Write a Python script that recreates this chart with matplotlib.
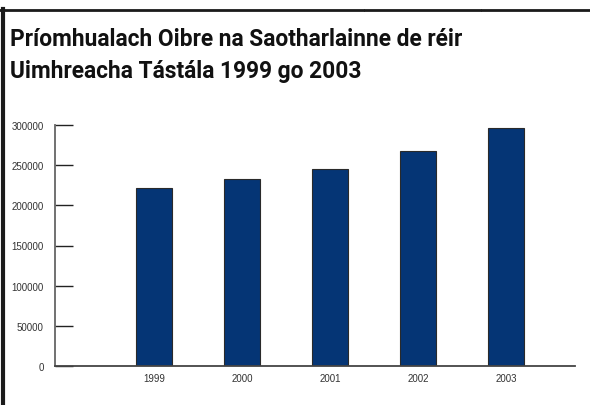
import matplotlib.pyplot as plt
from matplotlib.lines import Line2D
import numpy as np

years = ['1999', '2000', '2001', '2002', '2003']
values = [222000, 233000, 245000, 267500, 296500]
yticks = [0, 50000, 100000, 150000, 200000, 250000, 300000]

title1 = 'Príomhualach Oibre na Saotharlainne de réir'
title2 = 'Uimhreacha Tástála 1999 go 2003'

fig = plt.figure(figsize=(5.9, 4.06), dpi=100)
ax = fig.add_axes([55/590, 1-367/406, 520/590, 241/406])

x = np.arange(len(years))
ax.bar(x, values, width=0.41, color='#053575', edgecolor='#2a2a2a', linewidth=0.8, zorder=2)

ax.set_xlim(-1.125, 4.784)
ax.set_ylim(0, 300000)
ax.set_yticks(yticks)
ax.set_yticklabels([str(v) for v in yticks], fontsize=7, color='#333333', family='Liberation Sans')
ax.tick_params(axis='y', direction='in', length=13, width=1, color='#222222', pad=8)
ax.set_xticks(x)
ax.set_xticklabels(years, fontsize=7, color='#333333', family='Liberation Sans')
ax.tick_params(axis='x', length=0, pad=5)

for s in ['top', 'right']:
    ax.spines[s].set_visible(False)
ax.spines['left'].set_color('#666666')
ax.spines['bottom'].set_color('#444444')
ax.spines['left'].set_linewidth(1.3)
ax.spines['bottom'].set_linewidth(1.3)

# frame lines of the page
fig.add_artist(Line2D([3/590, 3/590], [0, 1-10/406], color='#1a1a1a', lw=3))
for a, b in [(0, 363), (365, 480), (482, 590)]:
    fig.add_artist(Line2D([a/590, b/590], [1-11/406, 1-11/406], color='#1a1a1a', lw=2))

tfont = ['Roboto', 'DejaVu Sans']
fig.text(10/590, 1-46/406, title1, fontsize=16.4, fontweight='bold', family=tfont,
         color='#111111', va='baseline', ha='left')
fig.text(10/590, 1-78/406, title2, fontsize=16.4, fontweight='bold', family=tfont,
         color='#111111', va='baseline', ha='left')

fig.savefig('out.png', dpi=100)
